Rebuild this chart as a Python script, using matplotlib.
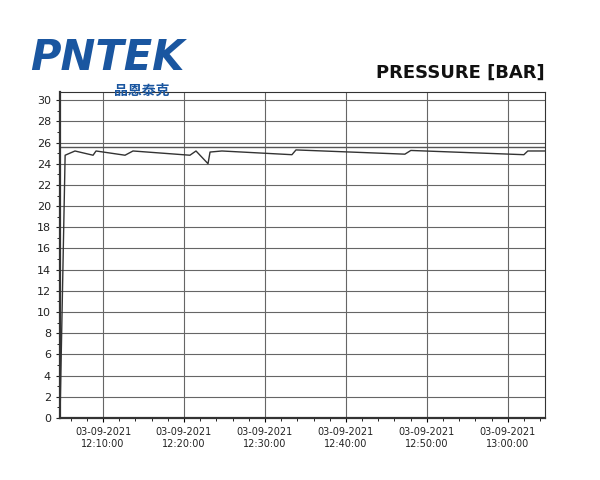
import matplotlib
matplotlib.use("Agg")
import matplotlib.pyplot as plt
import matplotlib.dates as mdates
import pandas as pd

times = ["12:04:41","12:05:19","12:06:32","12:08:46","12:09:08","12:12:43","12:13:42",
         "12:20:44","12:21:29","12:22:58","12:23:13","12:24:41","12:33:20","12:33:50",
         "12:47:17","12:48:01","13:01:59","13:02:28","13:04:34"]
pressure = [0.0,24.8,25.2,24.8,25.2,24.8,25.2,24.8,25.2,24.0,25.1,25.2,24.85,25.3,
            24.9,25.25,24.85,25.2,25.2]
limit = 25.6
tick_times = ["12:10:00","12:20:00","12:30:00","12:40:00","12:50:00","13:00:00"]
date = "2021-09-03 "

t = pd.to_datetime([date + s for s in times])
ticks = pd.to_datetime([date + s for s in tick_times])

fig = plt.figure(figsize=(6, 4.8), dpi=100)
ax = fig.add_axes([0.1, 0.129, 0.808, 0.679])
ax.plot(t, pressure, color="#333333", lw=1.0)
ax.axhline(limit, color="#555555", lw=1.0)
ax.set_ylim(0, 30.75)
ax.set_xlim(t[0], t[-1])
ax.set_yticks(range(0, 31, 2))
ax.set_yticks(range(0, 31, 1), minor=True)
ax.set_xticks(ticks)
ax.xaxis.set_minor_locator(mdates.MinuteLocator(byminute=range(0, 60, 2)))
ax.set_xticklabels(["03-09-2021\n" + s for s in tick_times], fontsize=7, color="#222222")
ax.tick_params(axis="y", labelsize=8, colors="#222222", length=3)
ax.tick_params(axis="x", length=3)
ax.tick_params(which="minor", length=2)
ax.grid(True, which="major", color="#666666", lw=0.8)
for s in ax.spines.values():
    s.set_color("#333333")
ax.spines["left"].set_linewidth(1.6)
ax.spines["bottom"].set_linewidth(1.6)

fig.text(0.05, 0.855, "PNTEK", fontsize=30, fontweight="bold", style="italic",
         color="#1a56a0", family="DejaVu Sans", va="baseline")
fig.text(0.19, 0.802, "品恩泰克", fontsize=10, fontweight="bold", style="italic",
         color="#1a56a0", family=["Noto Sans CJK SC", "DejaVu Sans"], va="baseline")
fig.text(0.907, 0.838, "PRESSURE [BAR]", fontsize=13, fontweight="bold", ha="right",
         color="#111111", family=["Liberation Sans Narrow", "DejaVu Sans"], va="baseline")
fig.savefig("out.png", dpi=100)
